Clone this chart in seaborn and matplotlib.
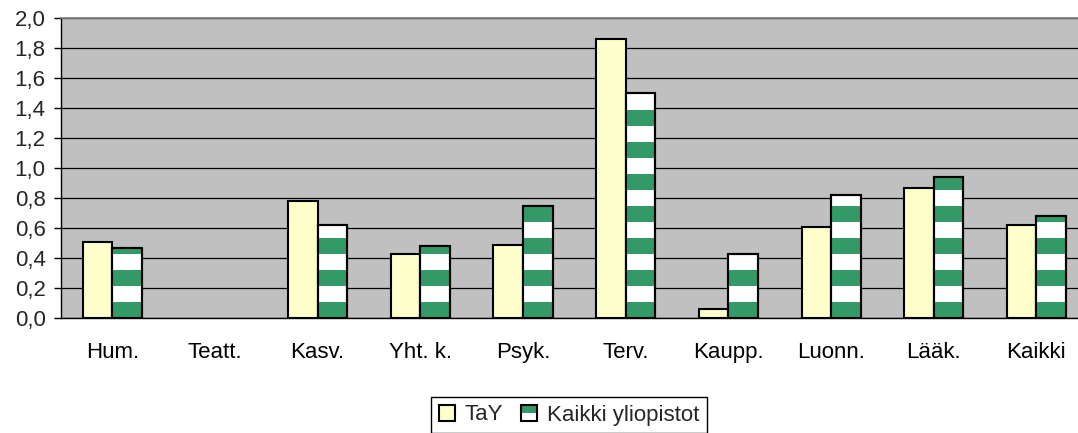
import numpy as np
import pandas as pd
from matplotlib import pyplot as plt
from matplotlib import patches as mpatches
from matplotlib.ticker import FuncFormatter
import seaborn as sns

# Aineisto luettu kuvasta (Teatt.: ei pylväitä)
alat = ["Hum.", "Teatt.", "Kasv.", "Yht. k.", "Psyk.", "Terv.", "Kaupp.", "Luonn.", "Lääk.", "Kaikki"]
tay = [0.51, np.nan, 0.78, 0.43, 0.49, 1.86, 0.06, 0.61, 0.87, 0.62]
kaikki_yliopistot = [0.47, np.nan, 0.62, 0.48, 0.75, 1.50, 0.43, 0.82, 0.94, 0.68]
sarjat = ["TaY", "Kaikki yliopistot"]

keltainen = "#FFFFCC"
vihrea = "#339966"

df = pd.DataFrame({
    "ala": alat * 2,
    "arvo": tay + kaikki_yliopistot,
    "sarja": [sarjat[0]] * len(alat) + [sarjat[1]] * len(alat),
})

sns.set_theme(style="white")
plt.rcParams["font.family"] = ["Liberation Sans", "DejaVu Sans"]
koko_fontti = 16

fig = plt.figure(figsize=(10.78, 4.33), dpi=100)
# piirtoalue jatkuu hieman kuvan oikean reunan yli, kuten alkuperäisessä
ax = fig.add_axes([61 / 1078, 1 - 318 / 433, 1026.7 / 1078, 300 / 433])
ax.set_facecolor("#C0C0C0")

sns.barplot(data=df, x="ala", y="arvo", hue="sarja", order=alat, palette=[keltainen, "white"],
            saturation=1, width=0.575, edgecolor="black", linewidth=1.5, legend=False, ax=ax)

# raidat toiselle sarjalle
jakso = 32 / 150
raita = jakso / 2
for p in ax.containers[1]:
    x, w, h = p.get_x(), p.get_width(), p.get_height()
    if not h > 0:
        continue
    for y0 in np.arange(0, h, jakso):
        r = mpatches.Rectangle((x, y0), w, min(raita, h - y0), facecolor=vihrea,
                               edgecolor="none", zorder=p.get_zorder() + 0.1)
        r.set_clip_path(p)
        ax.add_patch(r)
    ax.add_patch(mpatches.Rectangle((x, 0), w, h, fill=False, edgecolor="black",
                                    linewidth=1.5, zorder=p.get_zorder() + 0.2))

ax.set_ylim(0, 2.0)
ax.set_xlim(-0.5, len(alat) - 0.5)
ax.set_yticks(np.arange(0, 2.01, 0.2))
ax.yaxis.set_major_formatter(FuncFormatter(lambda v, _: f"{v:.1f}".replace(".", ",")))
ax.set_xticks(np.arange(-0.5, len(alat), 1), minor=True)
ax.tick_params(axis="x", which="major", length=0, pad=17, labelsize=koko_fontti, colors="black")
ax.tick_params(axis="x", which="minor", length=5, width=1, color="black", direction="out")
ax.tick_params(axis="y", length=5, width=1, color="black", direction="out", pad=6,
               labelsize=koko_fontti, left=True)
ax.set_axisbelow(True)
ax.yaxis.grid(True, color="black", linewidth=0.9)
ax.set_xlabel("")
ax.set_ylabel("")

for s in ["left", "bottom"]:
    ax.spines[s].set_color("black")
    ax.spines[s].set_linewidth(1)
ax.spines["top"].set_color("#808080")
ax.spines["right"].set_color("#808080")


class PuolikasNeliö:
    def __init__(self, ylä, ala):
        self.ylä = ylä
        self.ala = ala

    def legend_artist(self, legend, orig_handle, fontsize, handlebox):
        x0, y0 = handlebox.xdescent, handlebox.ydescent
        koko = min(handlebox.width, handlebox.height)
        t = handlebox.get_transform()
        handlebox.add_artist(mpatches.Rectangle((x0, y0), koko, koko / 2,
                                                facecolor=self.ala, edgecolor="none", transform=t))
        handlebox.add_artist(mpatches.Rectangle((x0, y0 + koko / 2), koko, koko / 2,
                                                facecolor=self.ylä, edgecolor="none", transform=t))
        handlebox.add_artist(mpatches.Rectangle((x0, y0), koko, koko, fill=False,
                                                edgecolor="black", linewidth=1.5, transform=t))
        return handlebox


h1 = mpatches.Patch(label=sarjat[0])
h2 = mpatches.Patch(label=sarjat[1])
leg = fig.legend(handles=[h1, h2], labels=sarjat, loc="center",
                 bbox_to_anchor=(569 / 1078, 1 - 415 / 433), ncol=2, fontsize=koko_fontti,
                 frameon=True, fancybox=False, edgecolor="black", framealpha=1,
                 handlelength=0.7, handleheight=0.7, handletextpad=0.45, columnspacing=0.8,
                 borderpad=0.35,
                 handler_map={h1: PuolikasNeliö(keltainen, keltainen),
                              h2: PuolikasNeliö(vihrea, "white")})
leg.get_frame().set_linewidth(1)

fig.savefig("out.png", dpi=100)
